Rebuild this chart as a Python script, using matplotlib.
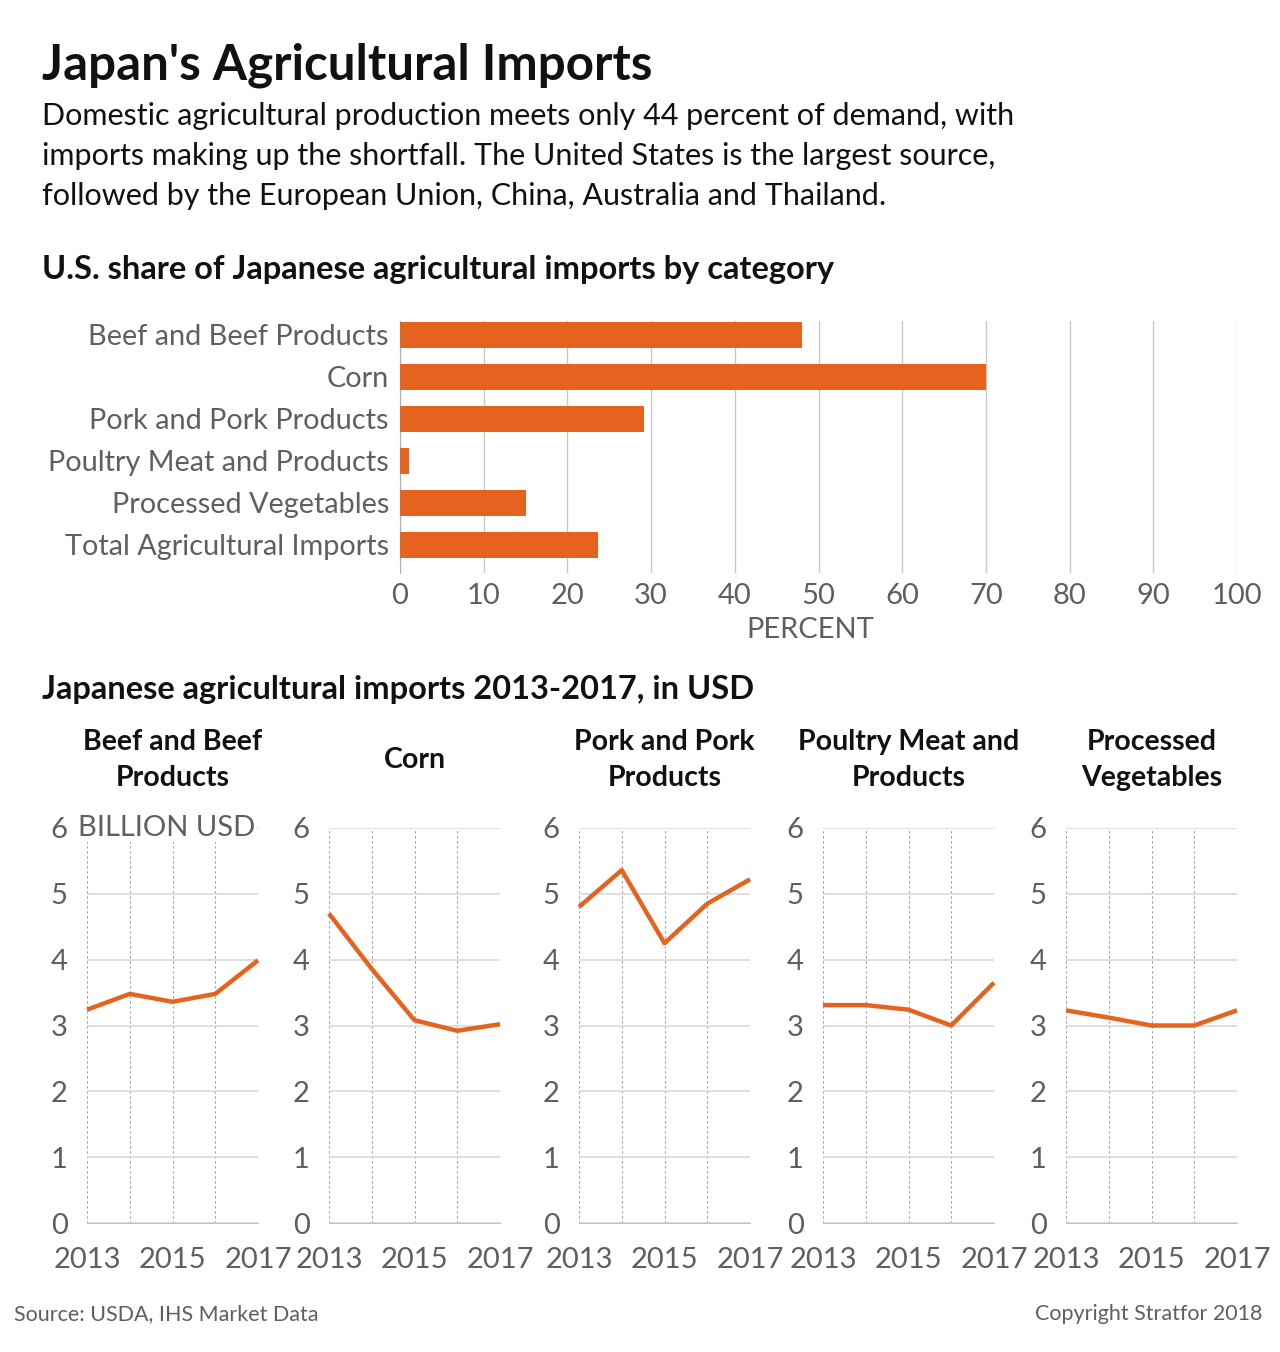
import matplotlib
matplotlib.use("Agg")
import matplotlib.pyplot as plt

W, H = 1280, 1352
ORANGE = "#E5631E"
GRAY = "#5f5f5f"
plt.rcParams["font.family"] = ["Lato", "DejaVu Sans"]

# --- data -----------------------------------------------------------------
categories = [
    "Beef and Beef Products",
    "Corn",
    "Pork and Pork Products",
    "Poultry Meat and Products",
    "Processed Vegetables",
    "Total Agricultural Imports",
]
us_share = [48, 70, 29.2, 1.1, 15, 23.7]
share_ticks = [0, 10, 20, 30, 40, 50, 60, 70, 80, 90, 100]

years = [2013, 2014, 2015, 2016, 2017]
year_labels = ["2013", "", "2015", "", "2017"]
panel_titles = [
    "Beef and Beef\nProducts",
    "Corn",
    "Pork and Pork\nProducts",
    "Poultry Meat and\nProducts",
    "Processed\nVegetables",
]
beef = [3.24, 3.48, 3.36, 3.48, 3.99]
corn = [4.70, 3.86, 3.08, 2.92, 3.02]
pork = [4.80, 5.36, 4.25, 4.85, 5.22]
poultry = [3.31, 3.31, 3.24, 3.00, 3.65]
vegetables = [3.23, 3.12, 3.00, 3.00, 3.23]
usd_ticks = [0, 1, 2, 3, 4, 5, 6]


def fx(x):
    return x / W


def fy(y):
    return 1 - y / H


def axes_px(x0, y0, x1, y1):
    return [fx(x0), fy(y1), (x1 - x0) / W, (y1 - y0) / H]


fig = plt.figure(figsize=(W / 100, H / 100), dpi=100)

# --- headings ---------------------------------------------------------------
fig.text(fx(42), fy(65), "Japan's Agricultural Imports", fontsize=35.5,
         fontweight="bold", color="#111111", va="center")
fig.text(fx(42), fy(156),
         "Domestic agricultural production meets only 44 percent of demand, with\n"
         "imports making up the shortfall. The United States is the largest source,\n"
         "followed by the European Union, China, Australia and Thailand.",
         fontsize=22, color="#111111", va="center", linespacing=1.52)
fig.text(fx(42), fy(270), "U.S. share of Japanese agricultural imports by category",
         fontsize=23.5, fontweight="bold", color="#111111", va="center")
fig.text(fx(42), fy(690), "Japanese agricultural imports 2013-2017, in USD",
         fontsize=23.5, fontweight="bold", color="#111111", va="center")

# --- bar chart ----------------------------------------------------------------
ax = fig.add_axes(axes_px(400, 321, 1237, 573))
pos = list(range(len(categories)))
ax.barh(pos, us_share, height=0.63, color=ORANGE, zorder=3)
ax.set_xlim(0, 100)
ax.set_ylim(5.67, -0.33)
ax.set_xticks(share_ticks)
ax.set_xticklabels([str(t) for t in share_ticks])
ax.set_yticks(pos)
ax.set_yticklabels(categories)
ax.tick_params(axis="both", length=0, labelcolor=GRAY)
ax.tick_params(axis="x", pad=7, labelsize=21)
ax.tick_params(axis="y", pad=8, labelsize=20.8)
ax.grid(axis="x", color="#c8c8c8", lw=1, zorder=0)
for s in ["top", "right", "bottom"]:
    ax.spines[s].set_visible(False)
ax.spines["left"].set_color("#b0b0b0")
fig.text(fx(810), fy(630), "PERCENT", fontsize=21, color=GRAY, ha="center", va="center")

# --- small multiples ---------------------------------------------------------
series = [beef, corn, pork, poultry, vegetables]
lefts = [87, 329, 579, 823, 1066]
for i, (vals, title, x0) in enumerate(zip(series, panel_titles, lefts)):
    a = fig.add_axes(axes_px(x0, 828, x0 + 171, 1223))
    a.plot(years, vals, color=ORANGE, lw=3.2, solid_capstyle="butt", zorder=4,
           clip_on=False)
    a.set_xlim(2013, 2017)
    a.set_ylim(0, 6)
    a.set_xticks(years)
    a.set_xticklabels(year_labels)
    a.set_yticks(usd_ticks)
    a.tick_params(axis="both", length=0, labelsize=21, labelcolor=GRAY)
    a.tick_params(axis="y", pad=14)
    a.tick_params(axis="x", pad=17)
    a.grid(axis="y", color="#d9d9d9", lw=1.2, zorder=0)
    a.grid(axis="x", color="#9a9a9a", lw=0.8, linestyle=(0, (2, 2.5)), zorder=0)
    for s in ["top", "right", "left"]:
        a.spines[s].set_visible(False)
    a.spines["bottom"].set_color("#c0c0c0")
    fig.text(fx(x0 + 85.5), fy(760), title, fontsize=20.5, fontweight="bold",
             color="#111111", ha="center", va="center", linespacing=1.5)
    if i == 0:
        a.text(2013 - 0.22, 6, "BILLION USD", fontsize=21, color=GRAY, va="center",
               ha="left", zorder=6,
               bbox=dict(facecolor="white", edgecolor="none", pad=1))

# --- footer -----------------------------------------------------------------------
fig.text(fx(14), fy(1314), "Source: USDA, IHS Market Data", fontsize=15.5,
         color=GRAY, va="center")
fig.text(fx(1262), fy(1314), "Copyright Stratfor 2018", fontsize=15.5,
         color=GRAY, va="center", ha="right")

fig.savefig("out.png", dpi=100, facecolor="white")
